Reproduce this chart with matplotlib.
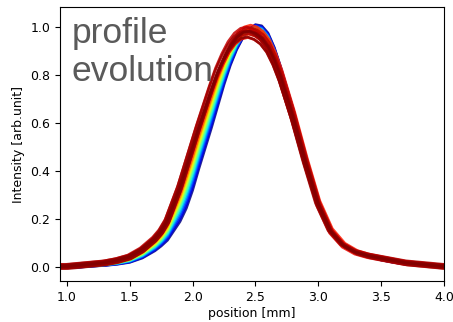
import matplotlib
matplotlib.use("Agg")
import matplotlib.pyplot as plt
import numpy as np

# sample positions shared by both read-off profiles
pos_mm = [0.90, 1.00, 1.10, 1.20, 1.30, 1.40, 1.50, 1.60, 1.70, 1.75, 1.80, 1.90,
          1.95, 2.00, 2.05, 2.10, 2.15, 2.20, 2.25, 2.30, 2.35, 2.40, 2.45, 2.50,
          2.55, 2.60, 2.65, 2.70, 2.80, 2.90, 3.00, 3.10, 3.20, 3.30, 3.40, 3.50,
          3.60, 3.70, 3.80, 3.90, 4.00, 4.10]

# latest profile (dark red)
late_profile = [0.000, 0.000, 0.005, 0.010, 0.015, 0.025, 0.040, 0.070, 0.115, 0.146, 0.190, 0.330,
                0.415, 0.500, 0.585, 0.665, 0.745, 0.820, 0.880, 0.930, 0.965, 0.985, 0.990, 0.980,
                0.960, 0.925, 0.870, 0.800, 0.630, 0.440, 0.265, 0.150, 0.090, 0.060, 0.045, 0.035,
                0.025, 0.015, 0.010, 0.005, 0.000, 0.000]

# earliest profile (blue)
early_profile = [0.000, 0.000, 0.000, 0.004, 0.007, 0.012, 0.020, 0.038, 0.068, 0.088, 0.112, 0.190,
                 0.245, 0.320, 0.410, 0.495, 0.580, 0.670, 0.760, 0.840, 0.905, 0.955, 0.990, 1.010,
                 1.005, 0.975, 0.915, 0.835, 0.660, 0.460, 0.280, 0.160, 0.098, 0.065, 0.045, 0.030,
                 0.020, 0.012, 0.008, 0.004, 0.000, 0.000]

# per-profile evolution: colour value (time), mix towards late profile, small jitter
time_frac = [0.00, 0.08, 0.16, 0.24, 0.32, 0.40, 0.48, 0.56, 0.62, 0.68, 0.74, 0.78,
             0.82, 0.85, 0.88, 0.90, 0.92, 0.94, 0.95, 0.96, 0.97, 0.98, 0.99, 1.00]
mix = [0.00, 0.08, 0.16, 0.24, 0.32, 0.40, 0.48, 0.56, 0.62, 0.68, 0.74, 0.78,
       0.84, 0.88, 0.92, 0.95, 0.97, 0.99, 1.00, 1.00, 1.00, 1.00, 1.00, 1.00]
shift_mm = [0.000, 0.000, 0.000, 0.000, 0.000, 0.000, 0.000, 0.000, 0.000, 0.000, 0.000, 0.000,
            0.006, -0.006, 0.012, -0.010, 0.004, -0.018, 0.014, -0.004, -0.022, 0.008, -0.012, 0.000]
offset = [0.000, 0.000, 0.000, 0.000, 0.000, 0.000, 0.000, 0.000, 0.000, 0.000, 0.000, 0.000,
          0.004, 0.000, 0.008, -0.004, 0.006, 0.010, -0.002, 0.012, 0.004, -0.006, 0.008, 0.002]
amplitude = [1.00, 1.00, 1.00, 1.00, 1.00, 1.00, 1.00, 1.00, 1.00, 1.00, 1.00, 1.00,
             1.00, 0.98, 1.01, 0.97, 0.99, 1.00, 1.01, 0.97, 0.99, 1.00, 0.96, 0.99]

x_base = np.array(pos_mm)
y_early = np.array(early_profile)
y_late = np.array(late_profile)

fig = plt.figure(figsize=(4.53, 3.22), dpi=100)
ax = fig.add_axes([0.1325, 0.127, 0.8475, 0.851])

cmap = plt.get_cmap("jet")
for t, m, s, o, a in zip(time_frac, mix, shift_mm, offset, amplitude):
    y = a * ((1 - m) * y_early + m * y_late) + o
    ax.plot(x_base + s, y, color=cmap(t), lw=1.9, alpha=0.85)

ax.set_xlim(0.945, 4.0)
ax.set_ylim(-0.058, 1.083)
ax.set_xticks([1.0, 1.5, 2.0, 2.5, 3.0, 3.5, 4.0])
ax.set_yticks([0.0, 0.2, 0.4, 0.6, 0.8, 1.0])
ax.tick_params(labelsize=9)
ax.set_xlabel("position [mm]", fontsize=9, labelpad=2)
ax.set_ylabel("Intensity [arb.unit]", fontsize=9)

ax.text(0.031, 0.963, "profile\nevolution", transform=ax.transAxes, va="top", ha="left",
        fontsize=25.5, family="Liberation Sans", color="#5a5a5a", linespacing=1.2)

fig.savefig("out.png", dpi=100)
